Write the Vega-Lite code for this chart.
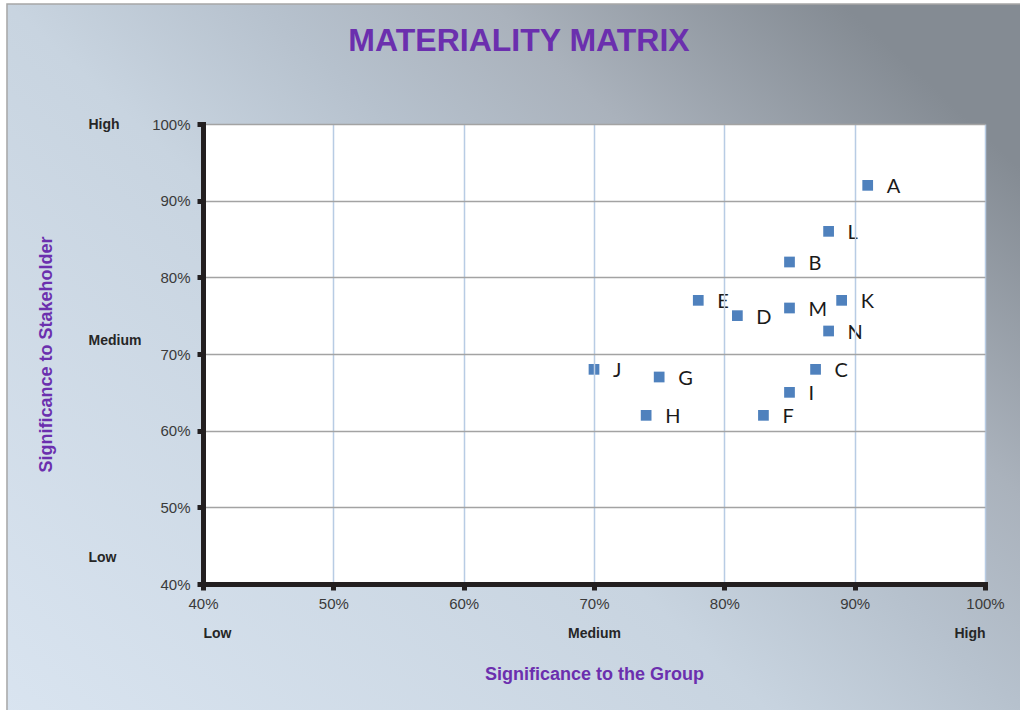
{
  "$schema": "https://vega.github.io/schema/vega-lite/v6.json",
  "width": 782,
  "height": 460,
  "autosize": "none",
  "padding": {"left": 203, "top": 124, "right": 35, "bottom": 126},
  "background": "white",
  "title": {
    "text": "MATERIALITY MATRIX",
    "font": "Liberation Sans",
    "fontSize": 32,
    "fontWeight": "bold",
    "color": "#6b2fae",
    "anchor": "middle",
    "dx": -75,
    "offset": -55,
    "zindex": 1
  },
  "config": {
    "view": {"stroke": null}
  },
  "data": {
    "values": [
      {"label": "A", "group": 0.91, "stakeholder": 0.92},
      {"label": "B", "group": 0.85, "stakeholder": 0.82},
      {"label": "C", "group": 0.87, "stakeholder": 0.68},
      {"label": "D", "group": 0.81, "stakeholder": 0.75},
      {"label": "E", "group": 0.78, "stakeholder": 0.77},
      {"label": "F", "group": 0.83, "stakeholder": 0.62},
      {"label": "G", "group": 0.75, "stakeholder": 0.67},
      {"label": "H", "group": 0.74, "stakeholder": 0.62},
      {"label": "I", "group": 0.85, "stakeholder": 0.65},
      {"label": "J", "group": 0.70, "stakeholder": 0.68},
      {"label": "K", "group": 0.89, "stakeholder": 0.77},
      {"label": "L", "group": 0.88, "stakeholder": 0.86},
      {"label": "M", "group": 0.85, "stakeholder": 0.76},
      {"label": "N", "group": 0.88, "stakeholder": 0.73}
    ]
  },
  "layer": [
    {
      "data": {"values": [{}]},
      "mark": {
        "type": "rect",
        "fill": {
          "gradient": "linear",
          "x1": 0, "y1": 1, "x2": 1, "y2": 0.25,
          "stops": [
            {"offset": 0, "color": "#d9e4f0"},
            {"offset": 0.48, "color": "#c8d4e0"},
            {"offset": 0.64, "color": "#b6c1cd"},
            {"offset": 0.78, "color": "#aab2bc"},
            {"offset": 1, "color": "#848b93"}
          ]
        },
        "stroke": "#a6a6a6",
        "strokeWidth": 1.5
      },
      "encoding": {
        "x": {"datum": 0.2496, "type": "quantitative", "axis": null},
        "x2": {"datum": 1.04},
        "y": {"datum": 1.1565, "type": "quantitative", "axis": null},
        "y2": {"datum": 0.22}
      }
    },
    {
      "data": {"values": [{}]},
      "mark": {"type": "rect", "fill": "white"},
      "encoding": {
        "x": {"datum": 0.4, "type": "quantitative", "axis": null},
        "x2": {"datum": 1.0},
        "y": {"datum": 0.4, "type": "quantitative", "axis": null},
        "y2": {"datum": 1.0}
      }
    },
    {
      "mark": {"type": "point", "shape": "square", "filled": true, "size": 115, "color": "#4f81bd", "opacity": 1, "zindex": 2},
      "encoding": {
        "x": {
          "field": "group",
          "type": "quantitative",
          "scale": {"domain": [0.4, 1.0], "nice": false, "zero": false},
          "axis": {
            "orient": "bottom",
            "zindex": 1,
            "title": null,
            "values": [0.4, 0.5, 0.6, 0.7, 0.8, 0.9, 1.0],
            "format": ".0%",
            "grid": true,
            "gridColor": "#b8cce4",
            "gridWidth": 1.5,
            "domainColor": "#231f20",
            "domainWidth": 5,
            "domainCap": "square",
            "tickColor": "#231f20",
            "tickWidth": 5,
            "tickSize": 6,
            "labelPadding": 6,
            "labelFlush": false,
            "labelFont": "Liberation Sans",
            "labelFontSize": 15,
            "labelColor": "#3a3a3a",
            "labelOverlap": false
          }
        },
        "y": {
          "field": "stakeholder",
          "type": "quantitative",
          "scale": {"domain": [0.4, 1.0], "nice": false, "zero": false},
          "axis": {
            "orient": "left",
            "zindex": 1,
            "title": null,
            "values": [0.4, 0.5, 0.6, 0.7, 0.8, 0.9, 1.0],
            "format": ".0%",
            "grid": true,
            "gridColor": "#a3a3a3",
            "gridWidth": 1.5,
            "domainColor": "#231f20",
            "domainWidth": 5,
            "domainCap": "square",
            "tickColor": "#231f20",
            "tickWidth": 5,
            "tickSize": 6,
            "labelPadding": 7,
            "labelFlush": false,
            "labelFont": "Liberation Sans",
            "labelFontSize": 15,
            "labelColor": "#3a3a3a",
            "labelOverlap": false
          }
        }
      }
    },
    {
      "mark": {"type": "text", "align": "left", "baseline": "middle", "dx": 19, "dy": 2, "font": "Lato", "fontSize": 20, "color": "#1a1a1a", "zindex": 2},
      "encoding": {
        "text": {"field": "label", "type": "nominal"},
        "x": {
          "field": "group",
          "type": "quantitative",
          "axis": {
            "orient": "bottom",
            "zindex": 1,
            "values": [0.4, 0.7, 1.0],
            "labelExpr": "datum.value < 0.5 ? 'Low' : datum.value < 0.9 ? 'Medium' : 'High'",
            "labelFlush": true,
            "ticks": false,
            "domain": false,
            "grid": false,
            "labelPadding": 42,
            "labelFont": "Liberation Sans",
            "labelFontSize": 14,
            "labelFontWeight": "bold",
            "labelColor": "#262626",
            "title": "Significance to the Group",
            "titleFont": "Liberation Sans",
            "titleFontSize": 18,
            "titleFontWeight": "bold",
            "titleColor": "#6b2fae",
            "titlePadding": 25
          }
        },
        "y": {
          "field": "stakeholder",
          "type": "quantitative",
          "axis": {
            "orient": "left",
            "zindex": 1,
            "values": [1.0, 0.717, 0.434],
            "labelExpr": "datum.value > 0.9 ? 'High' : datum.value > 0.6 ? 'Medium' : 'Low'",
            "labelAlign": "left",
            "labelBaseline": "middle",
            "ticks": false,
            "domain": false,
            "grid": false,
            "labelPadding": 115,
            "labelFont": "Liberation Sans",
            "labelFontSize": 14,
            "labelFontWeight": "bold",
            "labelColor": "#262626",
            "title": "Significance to Stakeholder",
            "titleFont": "Liberation Sans",
            "titleFontSize": 18,
            "titleFontWeight": "bold",
            "titleColor": "#6b2fae",
            "titlePadding": 33
          }
        }
      }
    }
  ],
  "resolve": {"axis": {"x": "independent", "y": "independent"}}
}
